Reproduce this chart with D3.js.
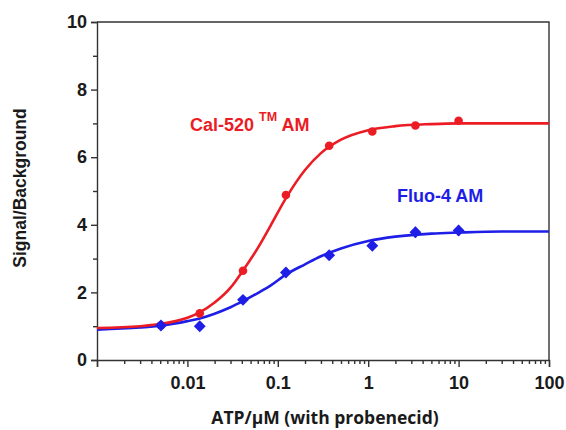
<!DOCTYPE html>
<html>
<head>
<meta charset="utf-8">
<script src="https://cdn.jsdelivr.net/npm/d3@7"></script>
<style>
  body { margin: 0; background: #fff; }
  text { font-family: "Liberation Sans", Arial, sans-serif; font-weight: bold; }
</style>
</head>
<body>
<script>
const width = 566;
const height = 430;

const margin = {
    left: 97,
    right: 17,
    top: 22,
    bottom: 70
};

// ATP concentrations (uM), 3-fold dilutions
const atp = [0.0051, 0.0137, 0.0412, 0.123, 0.37, 1.11, 3.33, 10];
const calValues = [1.03, 1.38, 2.64, 4.88, 6.34, 6.76, 6.94, 7.08];
const fluoValues = [1.02, 1.00, 1.78, 2.59, 3.10, 3.38, 3.78, 3.83];
const fluoErr = [0.06, 0.06, 0.08, 0.08, 0.1, 0.12, 0.16, 0.16];

// fitted curves
const fitX = [0.001, 0.003, 0.0052, 0.01, 0.0137, 0.02, 0.03, 0.041, 0.06, 0.083, 0.125, 0.2, 0.3, 0.5, 1, 2, 5, 10, 30, 100];
const calFit = [0.945, 1.0, 1.07, 1.25, 1.41, 1.7, 2.14, 2.64, 3.31, 3.97, 4.82, 5.62, 6.12, 6.52, 6.8, 6.92, 6.98, 7.0, 7.0, 7.0];
const fluoFit = [0.9, 0.96, 1.02, 1.15, 1.23, 1.37, 1.56, 1.74, 1.98, 2.2, 2.54, 2.83, 3.07, 3.3, 3.52, 3.65, 3.74, 3.77, 3.8, 3.8];

const xTicks = [0.01, 0.1, 1, 10, 100];
const yTicks = [0, 2, 4, 6, 8, 10];

const red = "#ec1c24";
const blue = "#1e1ee6";

let svg = d3.select("body").append("svg")
    .attr("width", width)
    .attr("height", height);

let xScale = d3.scaleLog()
    .domain([0.001, 100])
    .range([margin.left, width - margin.right]);

let yScale = d3.scaleLinear()
    .domain([0, 10])
    .range([height - margin.bottom, margin.top]);

// minor ticks
let xMinor = [];
[0.001, 0.01, 0.1, 1, 10].forEach(d => {
    for (let k = 2; k <= 9; k++) xMinor.push(d * k);
});
let yMinor = [1, 3, 5, 7, 9];

svg.append("g")
    .attr("class", "axis axis--x-minor")
    .attr("transform", "translate(0," + (height - margin.bottom) + ")")
    .call(d3.axisBottom(xScale).tickValues(xMinor).tickSize(4).tickFormat(""));

svg.append("g")
    .attr("class", "axis axis--x")
    .attr("transform", "translate(0," + (height - margin.bottom) + ")")
    .call(d3.axisBottom(xScale).tickValues([0.001].concat(xTicks)).tickSize(7).tickPadding(9)
        .tickFormat(d => d === 0.001 ? "" : d3.format("~g")(d)));

svg.append("g")
    .attr("class", "axis axis--y-minor")
    .attr("transform", "translate(" + margin.left + ",0)")
    .call(d3.axisLeft(yScale).tickValues(yMinor).tickSize(4).tickFormat(""));

svg.append("g")
    .attr("class", "axis axis--y")
    .attr("transform", "translate(" + margin.left + ",0)")
    .call(d3.axisLeft(yScale).tickValues(yTicks).tickSize(6).tickPadding(4));

svg.selectAll(".axis path, .axis line")
    .attr("stroke", "#333")
    .attr("stroke-width", 1.4);
svg.selectAll(".axis--x-minor path, .axis--y-minor path").remove();
svg.selectAll(".axis text")
    .style("font-size", "18px")
    .attr("fill", "#1a1a1a");

// frame top and right
svg.append("path")
    .attr("d", `M${xScale(0.001)},${yScale(10)}H${xScale(100)}V${yScale(0)}`)
    .attr("fill", "none")
    .attr("stroke", "#333")
    .attr("stroke-width", 1.4);

// axis titles
svg.append("text")
    .attr("text-anchor", "middle")
    .attr("transform", `translate(26, ${(yScale(0) + yScale(10)) / 2 - 3}) rotate(-90)`)
    .style("font-size", "17.5px")
    .attr("fill", "#1a1a1a")
    .text("Signal/Background");

svg.append("text")
    .attr("text-anchor", "middle")
    .attr("x", (xScale(0.001) + xScale(100)) / 2 + 2)
    .attr("y", 424)
    .style("font-family", "'Open Sans', sans-serif")
    .style("font-size", "17.5px")
    .attr("fill", "#1a1a1a")
    .text("ATP/\u00b5M (with probenecid)");

// fit lines
let line = d3.line()
    .x(d => xScale(d[0]))
    .y(d => yScale(d[1]))
    .curve(d3.curveMonotoneX);

svg.append("path")
    .datum(fitX.map((d, i) => [d, fluoFit[i]]))
    .attr("d", line)
    .attr("fill", "none")
    .attr("stroke", blue)
    .attr("stroke-width", 2.6);

svg.append("path")
    .datum(fitX.map((d, i) => [d, calFit[i]]))
    .attr("d", line)
    .attr("fill", "none")
    .attr("stroke", red)
    .attr("stroke-width", 2.6);

// Cal-520 points
svg.selectAll(".cal")
    .data(atp)
    .enter()
    .append("circle")
    .attr("class", "cal")
    .attr("cx", d => xScale(d))
    .attr("cy", (d, i) => yScale(calValues[i]))
    .attr("r", 4.3)
    .style("fill", red);

// Fluo-4 points with error bars
svg.selectAll(".err")
    .data(atp)
    .enter()
    .append("line")
    .attr("class", "err")
    .attr("x1", d => xScale(d))
    .attr("x2", d => xScale(d))
    .attr("y1", (d, i) => yScale(fluoValues[i] + fluoErr[i]))
    .attr("y2", (d, i) => yScale(fluoValues[i] - fluoErr[i]))
    .attr("stroke", blue)
    .attr("stroke-width", 1.5);

svg.selectAll(".fluo")
    .data(atp)
    .enter()
    .append("path")
    .attr("class", "fluo")
    .attr("transform", (d, i) => `translate(${xScale(d)},${yScale(fluoValues[i])})`)
    .attr("d", d3.symbol(d3.symbolDiamond2, 90))
    .style("fill", blue);

// series labels
let calLabel = svg.append("text")
    .attr("x", 190)
    .attr("y", 131)
    .style("font-size", "18px")
    .attr("fill", red);
calLabel.append("tspan").text("Cal-520 ");
calLabel.append("tspan").attr("dy", -10).style("font-size", "12.5px").text("TM");
calLabel.append("tspan").attr("dy", 10).text(" AM");

svg.append("text")
    .attr("x", 397)
    .attr("y", 202)
    .style("font-size", "18px")
    .attr("fill", blue)
    .text("Fluo-4 AM");
</script>
</body>
</html>
